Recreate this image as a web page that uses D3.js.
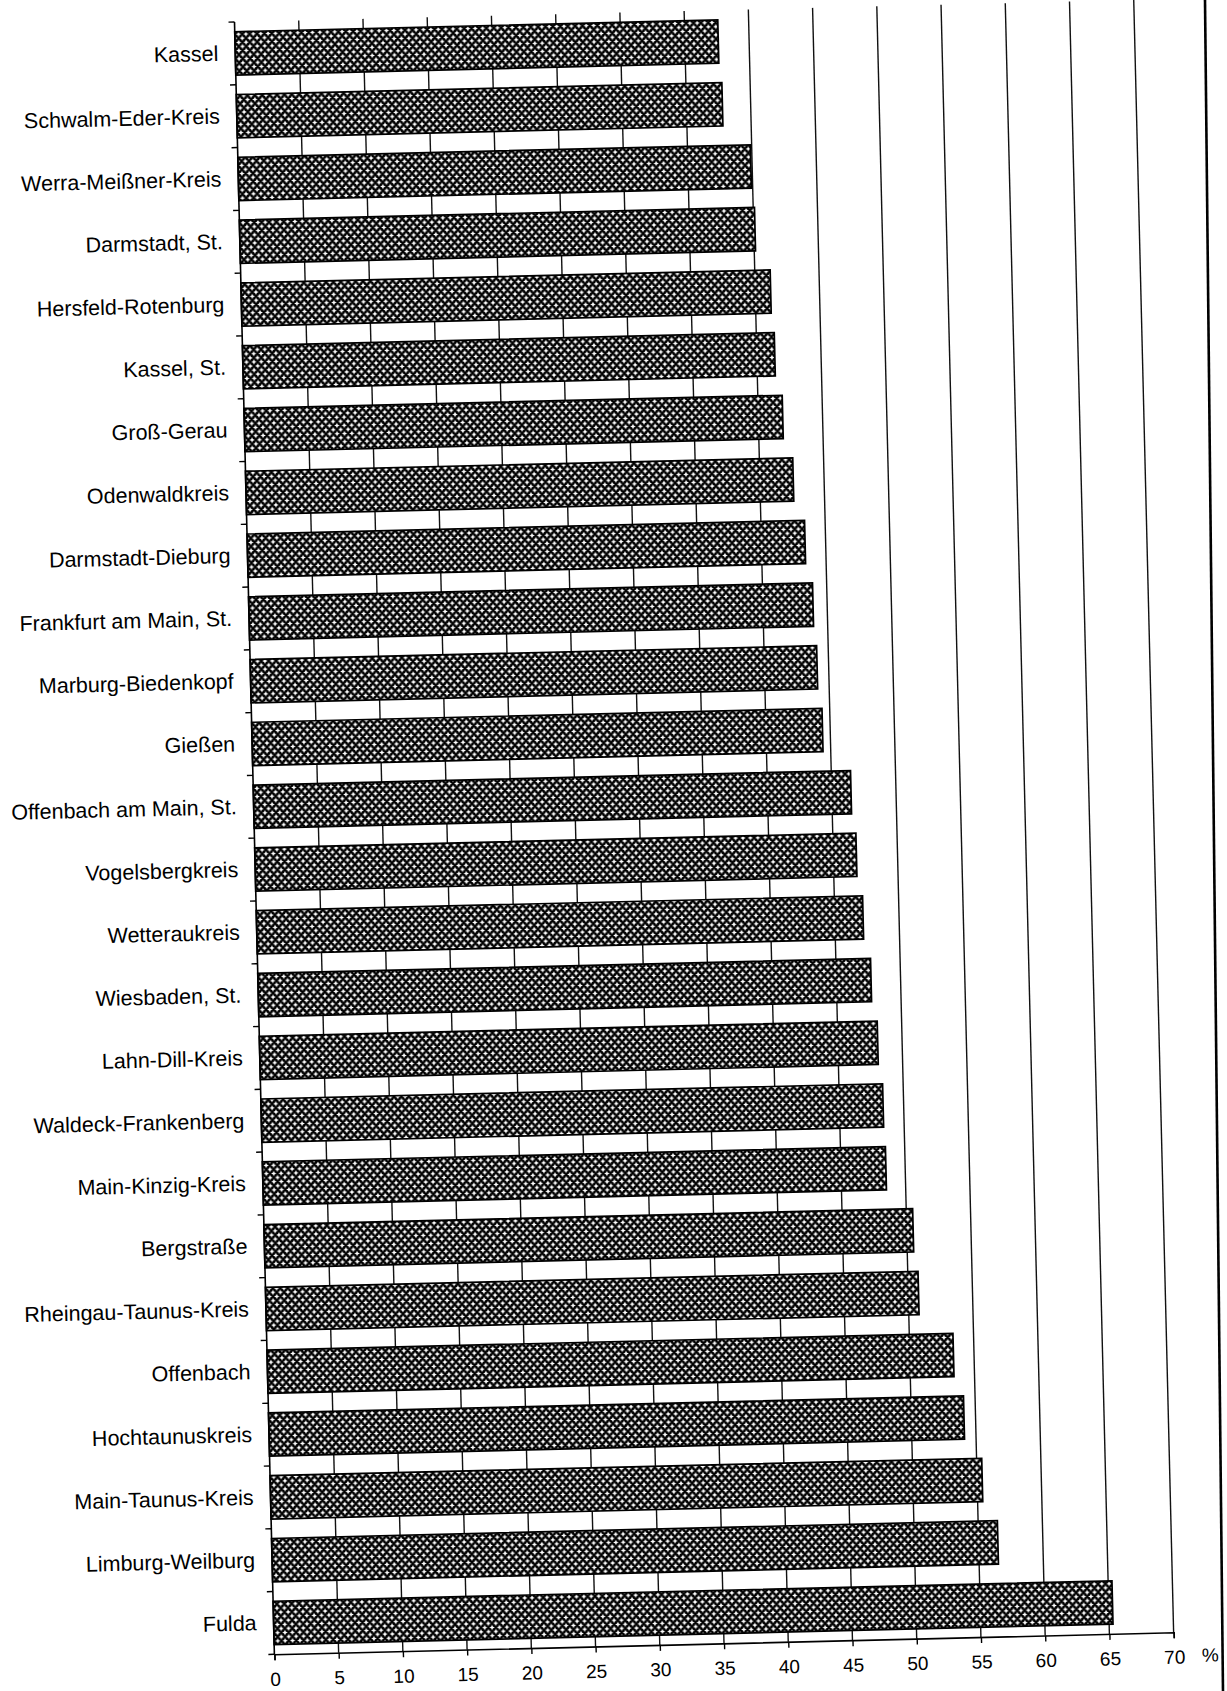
<!DOCTYPE html>
<html>
<head>
<meta charset="utf-8">
<script src="https://cdn.jsdelivr.net/npm/d3@7"></script>
<style>
  html, body { margin: 0; padding: 0; background: #fff; }
  svg { display: block; }
</style>
</head>
<body>
<svg id="chart" width="1227" height="1691"></svg>
<script>
const categories = [
  "Kassel", "Schwalm-Eder-Kreis", "Werra-Meißner-Kreis", "Darmstadt, St.",
  "Hersfeld-Rotenburg", "Kassel, St.", "Groß-Gerau", "Odenwaldkreis",
  "Darmstadt-Dieburg", "Frankfurt am Main, St.", "Marburg-Biedenkopf", "Gießen",
  "Offenbach am Main, St.", "Vogelsbergkreis", "Wetteraukreis", "Wiesbaden, St.",
  "Lahn-Dill-Kreis", "Waldeck-Frankenberg", "Main-Kinzig-Kreis", "Bergstraße",
  "Rheingau-Taunus-Kreis", "Offenbach", "Hochtaunuskreis", "Main-Taunus-Kreis",
  "Limburg-Weilburg", "Fulda"
];
const values = [
  37.6, 37.8, 39.9, 40.1, 41.2, 41.4, 41.9, 42.6, 43.4, 43.9, 44.1, 44.4,
  46.5, 46.8, 47.2, 47.7, 48.1, 48.4, 48.5, 50.5, 50.8, 53.4, 54.1, 55.4,
  56.5, 65.3
];
const xTicks = [0, 5, 10, 15, 20, 25, 30, 35, 40, 45, 50, 55, 60, 65, 70];
const unitLabel = "%";

const svg = d3.select("#chart");
svg.append("rect").attr("width", 1227).attr("height", 1691).attr("fill", "#fff");

const W = 899.5, H = 1632.8;
const x = d3.scaleLinear().domain([0, 70]).range([0, W]);
const y = d3.scaleBand().domain(categories).range([0, H]).paddingInner(0.31).paddingOuter(0.155);

// pattern
const defs = svg.append("defs");
const pw = 7.4, ph = 8.2;
const pat = defs.append("pattern").attr("id", "hatch")
  .attr("patternUnits", "userSpaceOnUse").attr("width", pw).attr("height", ph);
pat.append("rect").attr("width", pw).attr("height", ph).attr("fill", "#000");
const star = (cx, cy) => {
  const R = 2.7, r = 0.8;
  return `M${cx},${cy-R} L${cx+r},${cy-r} L${cx+R},${cy} L${cx+r},${cy+r} L${cx},${cy+R} L${cx-r},${cy+r} L${cx-R},${cy} L${cx-r},${cy-r} Z`;
};
[[0,0],[pw,0],[0,ph],[pw,ph],[pw/2,ph/2]].forEach(([a,b]) => {
  pat.append("path").attr("d", star(a,b)).attr("fill", "#fff");
});

const g = svg.append("g").attr("transform", "translate(234.5,22) rotate(-1.4)");

// gridlines
g.append("g").selectAll("line").data(xTicks.filter(d => d > 0)).join("line")
  .attr("x1", d => x(d)).attr("x2", d => x(d))
  .attr("y1", 0).attr("y2", H)
  .attr("stroke", "#111").attr("stroke-width", 1.4);

// bars
g.append("g").selectAll("rect").data(categories).join("rect")
  .attr("x", 0)
  .attr("y", d => y(d))
  .attr("width", (d, i) => x(values[i]))
  .attr("height", y.bandwidth())
  .attr("fill", "url(#hatch)")
  .attr("stroke", "#000").attr("stroke-width", 1.7);

// left axis
g.append("line").attr("x1", 0).attr("x2", 0).attr("y1", 0).attr("y2", H)
  .attr("stroke", "#000").attr("stroke-width", 1.6);
g.append("g").selectAll("line").data(d3.range(categories.length + 1)).join("line")
  .attr("x1", -6).attr("x2", 0)
  .attr("y1", k => k * y.step()).attr("y2", k => k * y.step())
  .attr("stroke", "#000").attr("stroke-width", 1.4);

// category labels
g.append("g").selectAll("text").data(categories).join("text")
  .attr("x", -17)
  .attr("y", d => y(d) + y.bandwidth() / 2)
  .attr("text-anchor", "end")
  .attr("dominant-baseline", "central")
  .attr("font-family", "'Liberation Sans', Arial, sans-serif")
  .attr("font-size", 21.5)
  .attr("fill", "#000")
  .text(d => d);

// bottom axis
const xAxis = d3.axisBottom(x).tickValues(xTicks).tickSize(6).tickPadding(12).tickFormat(d3.format("d"));
const ax = g.append("g").attr("transform", `translate(0,${H})`).call(xAxis);
ax.select(".domain").attr("stroke", "#000").attr("stroke-width", 1.6);
ax.selectAll(".tick line").attr("stroke", "#000").attr("stroke-width", 1.4);
ax.selectAll(".tick text")
  .attr("font-family", "'Liberation Sans', Arial, sans-serif")
  .attr("font-size", 19).attr("fill", "#000");
g.append("text").attr("x", x(70) + 36).attr("y", H + 18 + 12)
  .attr("text-anchor", "middle")
  .attr("font-family", "'Liberation Sans', Arial, sans-serif")
  .attr("font-size", 19).attr("fill", "#000")
  .text(unitLabel);

// right border line of the scanned page
svg.append("line").attr("x1", 1205).attr("y1", 0).attr("x2", 1223).attr("y2", 1691)
  .attr("stroke", "#000").attr("stroke-width", 2.6);
</script>
</body>
</html>
